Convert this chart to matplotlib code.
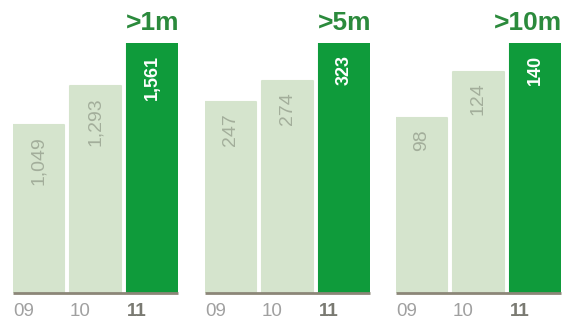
import matplotlib
matplotlib.use('Agg')
import matplotlib.pyplot as plt

plt.rcParams['font.family'] = ['Liberation Sans', 'DejaVu Sans']

# Data: one panel per threshold
panel_titles = ['>1m', '>5m', '>10m']
years = ['09', '10', '11']
values = [
    [1049, 1293, 1561],
    [247, 274, 323],
    [98, 124, 140],
]
value_labels = [
    ['1,049', '1,293', '1,561'],
    ['247', '274', '323'],
    ['98', '124', '140'],
]

light = '#d5e4cd'
dark = '#0f9b3b'
title_col = '#2b8a3c'

W, H = 565, 324
fig = plt.figure(figsize=(W / 100, H / 100), dpi=100)

panel_left = [13, 205, 396]   # pixels
panel_w = 165
base_y = 293                  # baseline, pixels from top
bar_h = 250                   # height of tallest bar, pixels
bw = 0.89

for i in range(3):
    ax = fig.add_axes([panel_left[i] / W, (H - base_y) / H,
                       panel_w / W, bar_h / H])
    vals = values[i]
    colors = [light, light, dark]
    x = list(range(len(vals)))
    ax.bar(x, vals, width=bw, color=colors, edgecolor=colors,
           linewidth=1.5, joinstyle='round')
    ax.set_xlim(-bw / 2, 2 + bw / 2)
    ax.set_ylim(0, max(vals))
    ax.axis('off')

    # baseline
    ax.plot([-bw / 2, 2 + bw / 2], [0, 0], color='#8c8678', linewidth=2,
            clip_on=False, solid_capstyle='butt')

    # year labels, left-aligned with each bar
    for j, yr in enumerate(years):
        ax.annotate(yr, (j - bw / 2, 0), xytext=(0, -10),
                    textcoords='offset pixels', ha='left', va='top',
                    fontsize=13.5,
                    fontweight='bold' if j == 2 else 'normal',
                    color='#7a7a72' if j == 2 else '#a0a0a0',
                    annotation_clip=False)

    # value labels inside bars
    for j, v in enumerate(vals):
        if j == 2:
            ax.annotate(value_labels[i][j], (j, v), xytext=(0, -12),
                        textcoords='offset pixels', rotation=90,
                        ha='center', va='top', fontsize=13,
                        fontweight='bold', color='white')
        else:
            ax.annotate(value_labels[i][j], (j, v), xytext=(0, -11),
                        textcoords='offset pixels', rotation=90,
                        ha='center', va='top', fontsize=14,
                        color='#a3ae9b')

    # panel title
    ax.annotate(panel_titles[i], (2 + bw / 2, max(vals)), xytext=(1, 8),
                textcoords='offset pixels', ha='right', va='bottom',
                fontsize=19, fontweight='bold', color=title_col,
                annotation_clip=False)

fig.savefig('out.png', dpi=100)
